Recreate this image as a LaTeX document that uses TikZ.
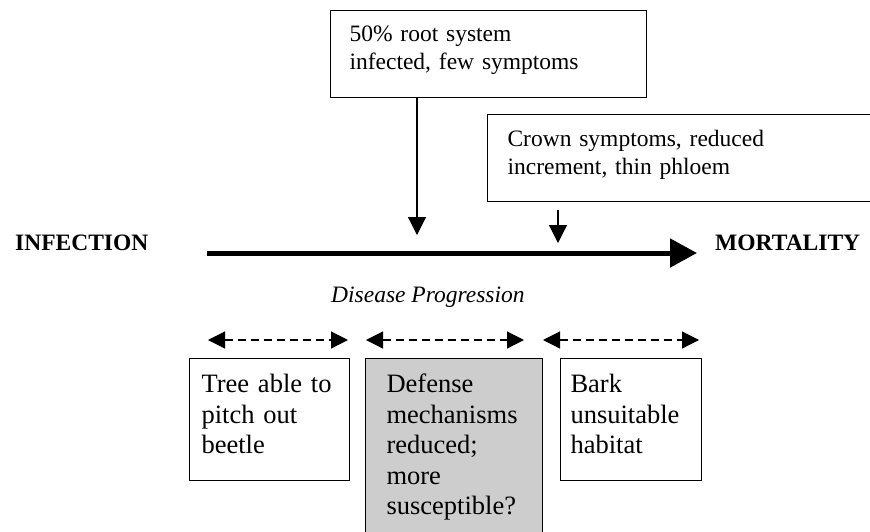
\documentclass[tikz,border=0pt]{standalone}
\usepackage{fontspec}
\setmainfont{Liberation Serif}
\usetikzlibrary{arrows.meta}
\definecolor{boxgray}{RGB}{205,205,205}
\begin{document}
\begin{tikzpicture}[x=1pt,y=-1pt,
  topbox/.style={draw, line width=1.1pt, inner ysep=0pt, anchor=north west, align=left,
    font=\fontsize{23.5}{28}\selectfont},
  lowbox/.style={draw, line width=1.1pt, inner ysep=0pt, anchor=north west, align=left,
    font=\fontsize{26.5}{30.5}\selectfont, text height=34pt, text depth=88pt},
  label/.style={inner sep=0pt, anchor=base west, font=\fontsize{23.5}{28}\selectfont\bfseries},
  ptr/.style={-{Triangle[length=18pt,width=18pt]}, line width=1.2pt},
  mainarrow/.style={-{Triangle[length=27pt,width=28pt]}, line width=5pt},
  span/.style={{Triangle[length=17pt,width=17pt]}-{Triangle[length=17pt,width=17pt]},
    line width=1.2pt, dash pattern=on 8pt off 5pt}]
\useasboundingbox (0,0) rectangle (870,531);
\clip (0,0) rectangle (870,531);
\fill[white] (0,0) rectangle (870,531);

% top boxes
\node[topbox, inner xsep=19pt, text width=278pt, text height=31pt, text depth=56pt]
  (root) at (330,10) {50\% root system\\infected, few symptoms};
\node[topbox, inner xsep=20pt, text width=373pt, text height=31.5pt, text depth=55.5pt]
  (crown) at (487,114) {Crown symptoms, reduced\\increment, thin phloem};

% labels
\node[label] (inf) at (15,250.5) {INFECTION};
\node[label] (mort) at (715,250.5) {MORTALITY};
\node[label, font=\fontsize{23.5}{28}\selectfont\itshape] (prog) at (331,302.5) {Disease Progression};

% lower boxes
\node[lowbox, inner xsep=12pt, text width=136pt] (pitch) at (189,358) {Tree able to\\pitch out\\beetle};
\node[lowbox, fill=boxgray, inner xsep=21pt, text width=135pt, text depth=170pt]
  (defense) at (365,358) {Defense\\mechanisms\\reduced;\\more\\susceptible?};
\node[lowbox, inner xsep=10pt, text width=121pt] (bark) at (560,358) {Bark\\unsuitable\\habitat};

% arrows
\coordinate (t1) at (417,235);
\draw[ptr] (root.south -| t1) -- (t1);
\coordinate (s2) at (558,210);
\coordinate (t2) at (558,243);
\draw[ptr] (s2) -- (t2);
\coordinate (ms) at (207,253);
\coordinate (me) at (697,253);
\draw[mainarrow] (ms) -- (me);

% dashed spans
\coordinate (a1) at (208,340); \coordinate (b1) at (348,340);
\coordinate (a2) at (366,340); \coordinate (b2) at (524,340);
\coordinate (a3) at (543,340); \coordinate (b3) at (699,340);
\draw[span] (a1) -- (b1);
\draw[span] (a2) -- (b2);
\draw[span] (a3) -- (b3);
\end{tikzpicture}
\end{document}
